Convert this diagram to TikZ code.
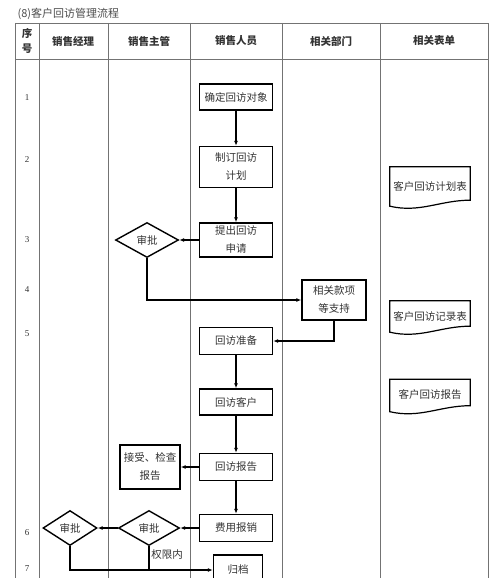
\documentclass[tikz,border=0pt]{standalone}
\usepackage{fontspec}
\setmainfont{Noto Sans CJK SC}
\newfontfamily\numfont{Liberation Serif}
\usetikzlibrary{shapes.geometric, calc, positioning, arrows.meta}

\begin{document}
\begin{tikzpicture}
  [x=1pt, y=-1pt,
   every node/.style = {font=\fontsize{10.5}{18}\selectfont, text=black!80},
   box/.style = {draw=black, line width=1.4pt, align=center,
     minimum width=73pt, inner sep=1pt},
   check/.style = {diamond, draw=black, line width=1.4pt, aspect=1.8,
     inner sep=0pt, minimum height=35pt},
   doc/.style = {draw=none, align=center, minimum width=80pt, inner sep=1pt},
   head/.style = {font=\fontsize{10.5}{15}\selectfont\bfseries, align=center},
   grid/.style = {draw=black!55, line width=0.9pt},
   flow/.style = {line width=1.2pt, -{Latex[length=5pt, width=4pt]}},
   line/.style = {line width=1.2pt}
  ]
  \useasboundingbox (0,0) rectangle (499,578);
  \node[anchor=west, font=\fontsize{11}{13}\selectfont, text=black!70] (title) at (14,14) {(8)客户回访管理流程};

  % table
  \draw[grid] (15,23) -- (488,23) (15,59) -- (488,59);
  \foreach \x in {15, 39, 108, 190, 282, 380, 488}
    \draw[grid] (\x,23) -- (\x,578);
  \node[head] (hno) at (27,41) {序\\号};
  \foreach \name/\x/\txt in {hm/73/销售经理, hs/149/销售主管, hp/236/销售人员,
                             hd/331/相关部门, hf/434/相关表单}
    \node[head] (\name) at (\x,41) {\txt};
  \foreach \n/\y in {1/98, 2/160, 3/240, 4/290, 5/334, 6/533, 7/569}
    \node[font=\numfont\fontsize{9}{11}\selectfont] (row\n) at (27,\y) {\n};

  % steps
  \node[box, minimum height=26pt] (confirm) at (236,97) {确定回访对象};
  \node[box, minimum height=41pt] (plan) at (236,167) {制订回访\\计划};
  \node[box, minimum height=34pt] (apply) at (236,240) {提出回访\\申请};
  \node[check, minimum width=63pt] (approveA) at (147,240) {审批};
  \node[box, minimum width=64pt, minimum height=40pt] (support) at (334,300) {相关款项\\等支持};
  \node[box, minimum height=27pt] (prepare) at (236,341) {回访准备};
  \node[box, minimum height=26pt] (visit) at (236,402) {回访客户};
  \node[box, minimum height=27pt] (report) at (236,467) {回访报告};
  \node[box, minimum width=60pt, minimum height=44pt] (inspect) at (150,467) {接受、检查\\报告};
  \node[box, minimum height=27pt] (expense) at (236,528) {费用报销};
  \node[check, minimum width=61pt] (approveS) at (149,528) {审批};
  \node[check, minimum width=54pt] (approveM) at (70,528) {审批};
  \node[box, minimum width=49pt, minimum height=30pt] (archive) at (238,570) {归档};
  \node (limit) at (167,555) {权限内};

  % forms
  \node[doc, minimum height=38pt] (formplan) at (430,186) {客户回访计划表};
  \node[doc, minimum height=30pt] (formrec) at (430,316) {客户回访记录表};
  \node[doc, minimum height=31pt] (formrep) at (430,395) {客户回访报告};
  \foreach \f in {formplan, formrec, formrep}
    \draw[line width=1.2pt] (\f.south west) -- (\f.north west) -- (\f.north east)
      -- ($(\f.south east)+(0,-5)$)
      .. controls ($(\f.south east)+(-30,-5)$) and ($(\f.south west)+(30,8)$)
      .. ($(\f.south west)+(0,1)$) -- cycle;

  % connectors
  \draw[flow] (confirm) -- (plan);
  \draw[flow] (plan) -- (apply);
  \draw[flow] (apply) -- (approveA);
  \draw[flow] (approveA.south) |- (support.west);
  \draw[flow] (support.south) |- (prepare.east);
  \draw[flow] (prepare) -- (visit);
  \draw[flow] (visit) -- (report);
  \draw[flow] (report) -- (inspect);
  \draw[flow] (report) -- (expense);
  \draw[flow] (expense) -- (approveS);
  \draw[flow] (approveS) -- (approveM);
  \draw[flow] (approveM.south) |- (archive.west);
  \draw[line] (approveS.south) -- (approveS.south |- archive.west);
\end{tikzpicture}
\end{document}
